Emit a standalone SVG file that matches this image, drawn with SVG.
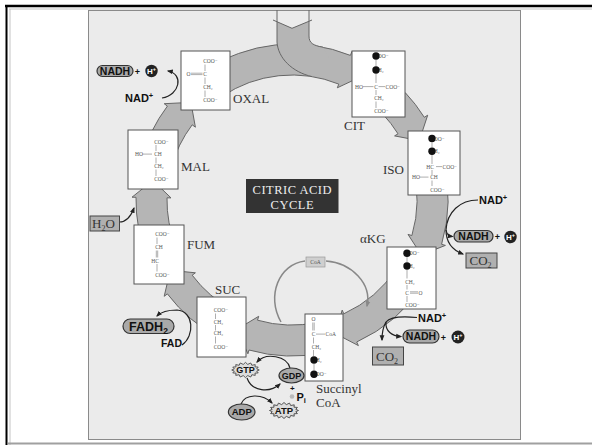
<svg xmlns="http://www.w3.org/2000/svg" width="592" height="445" viewBox="0 0 592 445">
<style>
.lbl{font-family:"Liberation Serif","DejaVu Serif",serif;font-size:13px;fill:#333}
.sb{font-family:"Liberation Sans",Arial,sans-serif;font-weight:bold;fill:#111}
.m{font-family:"Liberation Serif","DejaVu Serif",serif;font-size:5.5px;fill:#555}
.bd{stroke:#777;stroke-width:0.6;fill:none}
.box{fill:#fff;stroke:#555;stroke-width:1}
.band{fill:#b5b5b5;stroke:#666;stroke-width:1}
.pill{fill:#a9a9a9;stroke:#333;stroke-width:1.2}
.arr{fill:none;stroke:#222;stroke-width:1.2}
.dot{fill:#111}
.hc{fill:#222}
.ht{font-family:"Liberation Sans",Arial,sans-serif;font-weight:bold;fill:#fff;font-size:8px}
.gbox{fill:#b0b0b0;stroke:#444;stroke-width:1}
.star{fill:#dcdcdc;stroke:#444;stroke-width:0.9}
</style>
<defs>
<marker id="ah" viewBox="0 0 10 10" refX="8" refY="5" markerWidth="6" markerHeight="6" markerUnits="userSpaceOnUse" orient="auto"><path d="M0,1 L10,5 L0,9 z" fill="#222"/></marker>
<marker id="ahg" viewBox="0 0 10 10" refX="8" refY="5" markerWidth="6" markerHeight="6" markerUnits="userSpaceOnUse" orient="auto"><path d="M0,1 L10,5 L0,9 z" fill="#888"/></marker>
<polygon id="starshape" points="14.5,0 11.77,1.17 13.4,3.06 9.98,3.33 10.25,5.66 6.67,4.99 5.55,7.39 2.34,5.88 0,8 -2.34,5.88 -5.55,7.39 -6.67,4.99 -10.25,5.66 -9.98,3.33 -13.4,3.06 -11.77,1.17 -14.5,0 -11.77,-1.17 -13.4,-3.06 -9.98,-3.33 -10.25,-5.66 -6.67,-4.99 -5.55,-7.39 -2.34,-5.88 0,-8 2.34,-5.88 5.55,-7.39 6.67,-4.99 10.25,-5.66 9.98,-3.33 13.4,-3.06 11.77,-1.17"/>
</defs>

<rect width="592" height="445" fill="#fff"/>
<line x1="5" y1="6" x2="592" y2="6" stroke="#000" stroke-width="2.5"/>
<line x1="6.5" y1="5" x2="6.5" y2="445" stroke="#000" stroke-width="2"/>
<line x1="9" y1="9" x2="592" y2="9" stroke="#c4c4c4" stroke-width="1"/>
<line x1="10" y1="9" x2="10" y2="445" stroke="#c4c4c4" stroke-width="1"/>
<rect x="88.5" y="10.5" width="432" height="429" fill="#ebebeb" stroke="#8a8a8a" stroke-width="1"/>
<line x1="8" y1="443.5" x2="592" y2="443.5" stroke="#a0a0a0" stroke-width="2"/>

<g id="cycle-arrows">
<path class="band" d="M204.8,70.7 A156,156 0 0 1 350.4,55.4 L351.9,51.6 L360.1,77.1 L337.3,87.8 L338.8,84.1 A125,125 0 0 0 222.1,96.4 Z"/>
<path class="band" d="M381.5,72.2 A156,156 0 0 1 424.3,117.3 L427.7,115.2 L419.3,140.6 L394.6,135.9 L398,133.8 A125,125 0 0 0 363.7,97.6 Z"/>
<path class="band" d="M442.7,159.6 A156,156 0 0 1 441.6,244.3 L445.4,245.4 L421.3,254.9 L408,234.4 L411.9,235.5 A125,125 0 0 0 412.7,167.6 Z"/>
<path class="band" d="M422.8,285 A156,156 0 0 1 356.7,342 L358.4,345.6 L335.4,333.6 L342.2,310.1 L343.8,313.8 A125,125 0 0 0 396.8,268.1 Z"/>
<path class="band" d="M324.4,352.6 A156,156 0 0 1 249,350 L247.9,353.8 L237.1,329.3 L258.7,316.3 L257.5,320.2 A125,125 0 0 0 318,322.3 Z"/>
<path class="band" d="M218.8,337.7 A156,156 0 0 1 167.4,293.9 L164.2,296.3 L170.3,270.3 L195.4,272.8 L192.2,275.2 A125,125 0 0 0 233.3,310.4 Z"/>
<path class="band" d="M147.4,258.4 A156,156 0 0 1 136,197.3 L132,197.2 L152.9,180.4 L171,197.9 L167,197.8 A125,125 0 0 0 176.1,246.8 Z"/>
<path class="band" d="M141.3,159.6 A156,156 0 0 1 167.4,106.1 L164.2,103.7 L190.9,102.4 L195.4,127.2 L192.2,124.8 A125,125 0 0 0 171.3,167.6 Z"/>
<!-- inlet from top -->
<path d="M277,21.7 L292,28.3 L309,21.2 L309,36 C309,43 313,45.5 323,47.2 L330,60 L312,76.6 C292,72 278,58 277,42 Z" fill="#b5b5b5"/>
<path d="M273,20 L292,28.3 L312,20" fill="none" stroke="#666" stroke-width="1"/>
<path d="M277,10 L277,42 C278,58 292,72 312,76.6" fill="none" stroke="#666" stroke-width="1"/>
<path d="M309,10 L309,36 C309,43 313,45.5 323,47.2" fill="none" stroke="#666" stroke-width="1"/>
</g>

<g id="connectors">
<path class="arr" d="M162,98 C180,95 184,74 168,71" marker-end="url(#ah)"/>
<path class="arr" d="M119.5,222 C127,222 131,216 134,208" marker-end="url(#ah)"/>
<path class="arr" d="M182,345 C195,336 194,311 177,310 C168,310 161,312 157,316" marker-end="url(#ah)"/>
<path class="arr" d="M478,200 C460,200 447,212 446,230"/>
<path class="arr" d="M446,230 C447,235 449,236 452.5,236.5" marker-end="url(#ah)"/>
<path class="arr" d="M446,230 C446,242 452,250 463,254" marker-end="url(#ah)"/>
<path class="arr" d="M417,317.5 C402,316 390,317 386,322"/>
<path class="arr" d="M386,322 C385,331 392,336 401,336.5" marker-end="url(#ah)"/>
<path class="arr" d="M386,322 C383,327 382,333 382,340" marker-end="url(#ah)"/>
<path class="arr" d="M290,368 C287,356 266,352 257,362" marker-end="url(#ah)"/>
<path class="arr" d="M247,378 C252,392 270,393 280,384" marker-end="url(#ah)"/>
<path class="arr" d="M241,404 C245,394 262,393 272,403" marker-end="url(#ah)"/>
<path d="M281,322 C266,296 279,264 305,261" fill="none" stroke="#888" stroke-width="1.5"/>
<path d="M326,261 C352,263 372,284 367,306" fill="none" stroke="#888" stroke-width="1.5" marker-end="url(#ahg)"/>
</g>

<g id="title">
<rect x="246" y="179" width="92.5" height="34" fill="#333"/>
<text x="292.3" y="193.5" text-anchor="middle" font-family="Liberation Serif, serif" font-size="12.5" fill="#eee" letter-spacing="0.5">CITRIC ACID</text>
<text x="292.3" y="208.5" text-anchor="middle" font-family="Liberation Serif, serif" font-size="12.5" fill="#eee" letter-spacing="0.5">CYCLE</text>
</g>

<g id="oxal">
<rect class="box" x="181" y="51" width="49" height="59"/>
<text class="m" x="203.2" y="63">COO⁻</text>
<line class="bd" x1="205" y1="64.5" x2="205" y2="71"/>
<text class="m" x="186.5" y="76">O</text>
<line class="bd" x1="191" y1="73.2" x2="202.5" y2="73.2"/>
<line class="bd" x1="191" y1="74.6" x2="202.5" y2="74.6"/>
<text class="m" x="203.2" y="76">C</text>
<line class="bd" x1="205" y1="77.5" x2="205" y2="84"/>
<text class="m" x="203.2" y="89">CH₂</text>
<line class="bd" x1="205" y1="90.5" x2="205" y2="97"/>
<text class="m" x="203.2" y="102">COO⁻</text>
<text class="lbl" x="233" y="103">OXAL</text>
</g>

<g id="cit">
<rect class="box" x="352" y="51" width="53" height="66"/>
<text class="m" x="374.2" y="58">COO⁻</text>
<circle class="dot" cx="376" cy="56" r="3.7"/>
<line class="bd" x1="376" y1="60" x2="376" y2="66.5"/>
<text class="m" x="374.2" y="72">CH₂</text>
<circle class="dot" cx="376" cy="70" r="3.7"/>
<line class="bd" x1="376" y1="74" x2="376" y2="83"/>
<text class="m" x="355" y="88.5">HO</text>
<line class="bd" x1="363" y1="86.6" x2="373.5" y2="86.6"/>
<text class="m" x="374.2" y="88.5">C</text>
<line class="bd" x1="378.5" y1="86.6" x2="385" y2="86.6"/>
<text class="m" x="385.5" y="88.5">COO⁻</text>
<line class="bd" x1="376" y1="90" x2="376" y2="95"/>
<text class="m" x="374.2" y="100">CH₂</text>
<line class="bd" x1="376" y1="101.5" x2="376" y2="108"/>
<text class="m" x="374.2" y="113">COO⁻</text>
<text class="lbl" x="344" y="130">CIT</text>
</g>

<g id="iso">
<rect class="box" x="408" y="131" width="52" height="64"/>
<text class="m" x="430.2" y="140.5">COO⁻</text>
<circle class="dot" cx="432" cy="138.5" r="3.7"/>
<line class="bd" x1="432" y1="142.5" x2="432" y2="147.5"/>
<text class="m" x="430.2" y="153.2">CH₂</text>
<circle class="dot" cx="432" cy="151.2" r="3.7"/>
<line class="bd" x1="432" y1="155" x2="432" y2="164"/>
<text class="m" x="426.3" y="168.5">HC</text>
<line class="bd" x1="436" y1="166.6" x2="442" y2="166.6"/>
<text class="m" x="442.5" y="168.5">COO⁻</text>
<line class="bd" x1="432" y1="170" x2="432" y2="175"/>
<text class="m" x="412" y="179">HO</text>
<line class="bd" x1="420" y1="177.1" x2="428.5" y2="177.1"/>
<text class="m" x="430.2" y="179">CH</text>
<line class="bd" x1="432" y1="180.5" x2="432" y2="186"/>
<text class="m" x="430.2" y="191.5">COO⁻</text>
<text class="lbl" x="383" y="174">ISO</text>
</g>

<g id="akg">
<rect class="box" x="387" y="247" width="49" height="62"/>
<text class="m" x="405.2" y="255.3">COO⁻</text>
<circle class="dot" cx="407" cy="253.3" r="3.7"/>
<line class="bd" x1="407" y1="257" x2="407" y2="262.5"/>
<text class="m" x="405.2" y="268">CH₂</text>
<circle class="dot" cx="407" cy="266" r="3.7"/>
<line class="bd" x1="407" y1="270" x2="407" y2="278.5"/>
<text class="m" x="405.2" y="283.5">CH₂</text>
<line class="bd" x1="407" y1="285" x2="407" y2="289.5"/>
<text class="m" x="405.2" y="294.5">C</text>
<line class="bd" x1="410" y1="291.8" x2="418" y2="291.8"/>
<line class="bd" x1="410" y1="293.2" x2="418" y2="293.2"/>
<text class="m" x="418.5" y="294.5">O</text>
<line class="bd" x1="407" y1="296" x2="407" y2="302"/>
<text class="m" x="405.2" y="307">COO⁻</text>
<text class="lbl" x="360" y="243">αKG</text>
</g>

<g id="succinyl-coa">
<rect class="box" x="305" y="314" width="38" height="67"/>
<text class="m" x="311.5" y="321">O</text>
<line class="bd" x1="312.8" y1="322.5" x2="312.8" y2="330.5"/>
<line class="bd" x1="314.2" y1="322.5" x2="314.2" y2="330.5"/>
<text class="m" x="311.7" y="336">C</text>
<line class="bd" x1="316" y1="334.1" x2="325" y2="334.1"/>
<text class="m" x="325.5" y="336">CoA</text>
<line class="bd" x1="313.5" y1="337.5" x2="313.5" y2="343.5"/>
<text class="m" x="311.7" y="348.5">CH₂</text>
<line class="bd" x1="313.5" y1="350" x2="313.5" y2="356"/>
<text class="m" x="312.2" y="362">CH₂</text>
<circle class="dot" cx="314" cy="360" r="3.7"/>
<line class="bd" x1="314" y1="364" x2="314" y2="370.5"/>
<text class="m" x="312.2" y="376.3">COO⁻</text>
<circle class="dot" cx="314" cy="374.3" r="3.7"/>
<text class="lbl" x="316" y="393">Succinyl</text>
<text class="lbl" x="316" y="407">CoA</text>
</g>

<g id="suc">
<rect class="box" x="197" y="297" width="49" height="60"/>
<text class="m" x="213.7" y="312">COO⁻</text>
<line class="bd" x1="215.5" y1="313.5" x2="215.5" y2="319"/>
<text class="m" x="213.7" y="323.5">CH₂</text>
<line class="bd" x1="215.5" y1="325" x2="215.5" y2="330.5"/>
<text class="m" x="213.7" y="335">CH₂</text>
<line class="bd" x1="215.5" y1="336.5" x2="215.5" y2="343.5"/>
<text class="m" x="213.7" y="348.5">COO⁻</text>
<text class="lbl" x="215" y="294">SUC</text>
</g>

<g id="fum">
<rect class="box" x="134" y="225" width="50" height="59"/>
<text class="m" x="155.2" y="236">COO⁻</text>
<line class="bd" x1="157" y1="237.5" x2="157" y2="244"/>
<text class="m" x="155.2" y="249">CH</text>
<line class="bd" x1="156.3" y1="250.5" x2="156.3" y2="257.5"/>
<line class="bd" x1="157.7" y1="250.5" x2="157.7" y2="257.5"/>
<text class="m" x="151.3" y="262.5">HC</text>
<line class="bd" x1="157" y1="264" x2="157" y2="271.5"/>
<text class="m" x="155.2" y="277">COO⁻</text>
<text class="lbl" x="187" y="249">FUM</text>
</g>

<g id="mal">
<rect class="box" x="128" y="130" width="50" height="59"/>
<text class="m" x="154.2" y="143.5">COO⁻</text>
<line class="bd" x1="156" y1="145" x2="156" y2="151"/>
<text class="m" x="135" y="156">HO</text>
<line class="bd" x1="142.5" y1="154.1" x2="152" y2="154.1"/>
<text class="m" x="154.2" y="156">CH</text>
<line class="bd" x1="156" y1="157.5" x2="156" y2="163.5"/>
<text class="m" x="154.2" y="168">CH₂</text>
<line class="bd" x1="156" y1="169.5" x2="156" y2="176"/>
<text class="m" x="154.2" y="181">COO⁻</text>
<text class="lbl" x="181" y="171">MAL</text>
</g>

<g id="nadh-oxal">
<rect class="pill" x="97" y="65.5" width="36" height="11" rx="5.5"/>
<text class="sb" x="115" y="74.6" font-size="10.5" text-anchor="middle">NADH</text>
<text class="sb" x="137.5" y="74.5" font-size="9" fill="#666" text-anchor="middle">+</text>
<circle class="hc" cx="151.5" cy="71" r="6.2"/>
<text class="ht" x="151.5" y="74" text-anchor="middle">H<tspan font-size="5.5" dy="-3">+</tspan></text>
<text class="sb" x="125" y="102" font-size="11">NAD<tspan font-size="7.5" dy="-4">+</tspan></text>
</g>

<g id="h2o">
<rect class="gbox" x="90" y="216" width="29.5" height="15"/>
<text class="lbl" x="92" y="228" font-size="12" fill="#222">H<tspan font-size="8" dy="3">2</tspan><tspan dy="-3">O</tspan></text>
</g>

<g id="fadh2">
<rect class="pill" x="123" y="319" width="51" height="14.5" rx="7.25"/>
<text class="sb" x="148.5" y="330.5" font-size="12.5" text-anchor="middle">FADH<tspan font-size="8.5" dy="3">2</tspan></text>
<text class="sb" x="161" y="347" font-size="10.5">FAD</text>
</g>

<g id="nadh-iso">
<text class="sb" x="479" y="203.5" font-size="11">NAD<tspan font-size="7.5" dy="-4">+</tspan></text>
<rect class="pill" x="454" y="230.5" width="39" height="11.5" rx="5.75"/>
<text class="sb" x="473.5" y="240" font-size="10.5" text-anchor="middle">NADH</text>
<text class="sb" x="497.5" y="240" font-size="9" fill="#666" text-anchor="middle">+</text>
<circle class="hc" cx="510.5" cy="237" r="6.2"/>
<text class="ht" x="510.5" y="240" text-anchor="middle">H<tspan font-size="5.5" dy="-3">+</tspan></text>
<rect class="gbox" x="466" y="253" width="31" height="15"/>
<text class="lbl" x="469.5" y="265" font-size="12" fill="#222">CO<tspan font-size="8" dy="3">2</tspan></text>
</g>

<g id="nadh-akg">
<text class="sb" x="418" y="322" font-size="11">NAD<tspan font-size="7.5" dy="-4">+</tspan></text>
<rect class="pill" x="403" y="330" width="36" height="13" rx="6.5"/>
<text class="sb" x="421" y="340.2" font-size="10.5" text-anchor="middle">NADH</text>
<text class="sb" x="443.5" y="340.5" font-size="9" fill="#666" text-anchor="middle">+</text>
<circle class="hc" cx="458" cy="337" r="6.5"/>
<text class="ht" x="458" y="340" text-anchor="middle">H<tspan font-size="5.5" dy="-3">+</tspan></text>
<rect class="gbox" x="372.5" y="347" width="31" height="18"/>
<text class="lbl" x="376" y="360.5" font-size="12" fill="#222">CO<tspan font-size="8" dy="3">2</tspan></text>
</g>

<g id="coa">
<rect x="306" y="257" width="19" height="10" fill="#cfcfcf" stroke="#999" stroke-width="0.7"/>
<text class="m" x="315.5" y="264" text-anchor="middle" fill="#666">CoA</text>
</g>

<g id="gtp">
<use href="#starshape" class="star" transform="translate(245.5,370) scale(0.95)"/>
<text class="sb" x="245.5" y="373.3" font-size="9" text-anchor="middle">GTP</text>
</g>
<g id="gdp">
<ellipse class="pill" cx="291.5" cy="375.5" rx="12.5" ry="7.5"/>
<text class="sb" x="291.5" y="378.8" font-size="9" text-anchor="middle">GDP</text>
</g>
<g id="adp">
<ellipse class="pill" cx="241.7" cy="412" rx="13.3" ry="8"/>
<text class="sb" x="241.7" y="415.3" font-size="9.5" text-anchor="middle">ADP</text>
</g>
<g id="atp">
<use href="#starshape" class="star" transform="translate(284,410.5)"/>
<text class="sb" x="284" y="413.8" font-size="9.5" text-anchor="middle">ATP</text>
</g>
<g id="pi">
<text class="sb" x="292.3" y="391" font-size="8" fill="#999" text-anchor="middle">+</text>
<circle cx="292" cy="396.5" r="2.3" fill="#bbb"/>
<text class="sb" x="296.5" y="400.5" font-size="11">P<tspan font-size="7.5" dy="2.5">i</tspan></text>
</g>
</svg>
